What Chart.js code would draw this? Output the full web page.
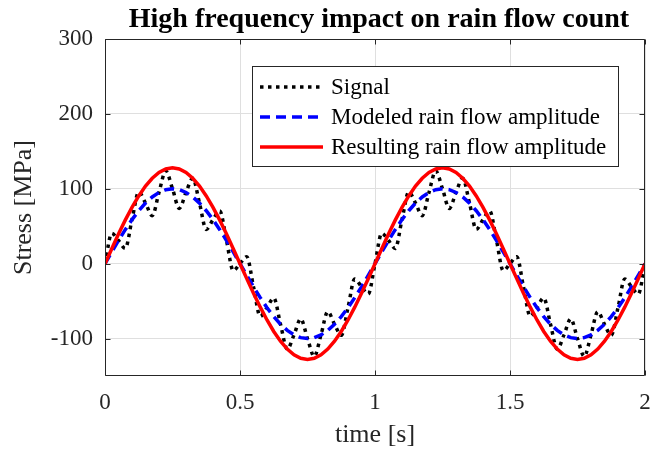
<!DOCTYPE html>
<html><head><meta charset="utf-8">
<script src="https://cdn.jsdelivr.net/npm/chart.js@4.4.1/dist/chart.umd.min.js"></script>
<style>html,body{margin:0;padding:0;background:#fff;}#wrap{width:665px;height:451px;position:relative;}</style>
</head><body><div id="wrap"><canvas id="c" width="665" height="451"></canvas></div>
<script>
const titleText = 'High frequency impact on rain flow count';
const xLabel = 'time [s]';
const yLabel = 'Stress [MPa]';
const seriesNames = ['Signal', 'Modeled rain flow amplitude', 'Resulting rain flow amplitude'];
const xTicks = [0, 0.5, 1, 1.5, 2];
const yTicks = [-100, 0, 100, 200, 300];

const timeS = [0,0.025,0.05,0.075,0.1,0.125,0.15,0.175,0.2,0.225,0.25,0.275,0.3,0.325,0.35,0.375,0.4,0.425,0.45,0.475,
0.5,0.525,0.55,0.575,0.6,0.625,0.65,0.675,0.7,0.725,0.75,0.775,0.8,0.825,0.85,0.875,0.9,0.925,0.95,0.975,
1,1.025,1.05,1.075,1.1,1.125,1.15,1.175,1.2,1.225,1.25,1.275,1.3,1.325,1.35,1.375,1.4,1.425,1.45,1.475,
1.5,1.525,1.55,1.575,1.6,1.625,1.65,1.675,1.7,1.725,1.75,1.775,1.8,1.825,1.85,1.875,1.9,1.925,1.95,1.975,2];

const signal = [0,40.6,30.9,20.4,58.8,95.7,80.9,64.1,95.1,123.8,100,73.8,95.1,114.1,80.9,45.7,58.8,70.4,30.9,-9.4,
0,9.4,-30.9,-70.4,-58.8,-45.7,-80.9,-114.1,-95.1,-73.8,-100,-123.8,-95.1,-64.1,-80.9,-95.7,-58.8,-20.4,-30.9,-40.6,
0,40.6,30.9,20.4,58.8,95.7,80.9,64.1,95.1,123.8,100,73.8,95.1,114.1,80.9,45.7,58.8,70.4,30.9,-9.4,
0,9.4,-30.9,-70.4,-58.8,-45.7,-80.9,-114.1,-95.1,-73.8,-100,-123.8,-95.1,-64.1,-80.9,-95.7,-58.8,-20.4,-30.9,-40.6,0];

const modeled = [0,15.6,30.9,45.4,58.8,70.7,80.9,89.1,95.1,98.8,100,98.8,95.1,89.1,80.9,70.7,58.8,45.4,30.9,15.6,
0,-15.6,-30.9,-45.4,-58.8,-70.7,-80.9,-89.1,-95.1,-98.8,-100,-98.8,-95.1,-89.1,-80.9,-70.7,-58.8,-45.4,-30.9,-15.6,
0,15.6,30.9,45.4,58.8,70.7,80.9,89.1,95.1,98.8,100,98.8,95.1,89.1,80.9,70.7,58.8,45.4,30.9,15.6,
0,-15.6,-30.9,-45.4,-58.8,-70.7,-80.9,-89.1,-95.1,-98.8,-100,-98.8,-95.1,-89.1,-80.9,-70.7,-58.8,-45.4,-30.9,-15.6,0];

const resulting = [0,20,39.6,58.1,75.2,90.5,103.6,114,121.7,126.4,128,126.4,121.7,114,103.6,90.5,75.2,58.1,39.6,20,
0,-20,-39.6,-58.1,-75.2,-90.5,-103.6,-114,-121.7,-126.4,-128,-126.4,-121.7,-114,-103.6,-90.5,-75.2,-58.1,-39.6,-20,
0,20,39.6,58.1,75.2,90.5,103.6,114,121.7,126.4,128,126.4,121.7,114,103.6,90.5,75.2,58.1,39.6,20,
0,-20,-39.6,-58.1,-75.2,-90.5,-103.6,-114,-121.7,-126.4,-128,-126.4,-121.7,-114,-103.6,-90.5,-75.2,-58.1,-39.6,-20,0];

const AX = '#262626';
const SERIF = '"Liberation Serif", "Times New Roman", serif';
const styles = [
  {color:'#000000', width:3.5, dash:[3.5,4.5], order:3, cubic:'monotone'},
  {color:'#0000ff', width:3.5, dash:[10,6], order:2, cubic:'default'},
  {color:'#ff0000', width:3.5, dash:[], order:1, cubic:'default'}
];
const seriesData = [signal, modeled, resulting];

const framePlugin = {
  id: 'frame',
  afterDatasetsDraw(chart) {
    const {ctx, chartArea: a, scales: {x, y}} = chart;
    ctx.save();
    ctx.strokeStyle = AX; ctx.lineWidth = 1;
    const L = Math.round(a.left) + 0.5, R = Math.round(a.right) - 0.5;
    const T = Math.round(a.top) + 0.5, B = Math.round(a.bottom) - 0.5;
    ctx.beginPath();
    ctx.rect(L, T, R - L, B - T);
    xTicks.forEach(v => {
      const px = Math.round(x.getPixelForValue(v)) + 0.5;
      ctx.moveTo(px, B); ctx.lineTo(px, B - 5);
      ctx.moveTo(px, T); ctx.lineTo(px, T + 5);
    });
    yTicks.forEach(v => {
      const py = Math.round(y.getPixelForValue(v)) + 0.5;
      ctx.moveTo(L, py); ctx.lineTo(L + 5, py);
      ctx.moveTo(R, py); ctx.lineTo(R - 5, py);
    });
    ctx.stroke();
    ctx.restore();
  },
  afterDraw(chart) {
    const ctx = chart.ctx;
    ctx.save();
    // title
    ctx.fillStyle = '#000';
    ctx.font = 'bold 28px ' + SERIF;
    ctx.textAlign = 'center';
    ctx.textBaseline = 'alphabetic';
    ctx.fillText(titleText, 379, 27);
    // legend
    const bx = 252.5, by = 66.5, bw = 366, bh = 100;
    ctx.fillStyle = '#fff';
    ctx.fillRect(bx, by, bw, bh);
    ctx.strokeStyle = AX; ctx.lineWidth = 1; ctx.setLineDash([]);
    ctx.strokeRect(bx, by, bw, bh);
    const rows = [87, 117, 147];
    ctx.font = '23px ' + SERIF;
    ctx.textAlign = 'left';
    ctx.textBaseline = 'middle';
    seriesNames.forEach((name, i) => {
      const s = styles[i];
      ctx.beginPath();
      ctx.strokeStyle = s.color; ctx.lineWidth = s.width; ctx.setLineDash(s.dash);
      ctx.lineCap = 'butt';
      ctx.moveTo(260, rows[i]); ctx.lineTo(323, rows[i]);
      ctx.stroke();
      ctx.setLineDash([]);
      ctx.fillStyle = '#000';
      ctx.fillText(name, 331, rows[i] + 1);
    });
    ctx.restore();
  }
};

const datasets = seriesNames.map((name, i) => ({
  label: name,
  data: timeS.map((t, j) => ({x: t, y: seriesData[i][j]})),
  borderColor: styles[i].color,
  borderWidth: styles[i].width,
  borderDash: styles[i].dash,
  borderCapStyle: 'butt',
  cubicInterpolationMode: styles[i].cubic,
  tension: 0,
  pointRadius: 0,
  fill: false,
  order: styles[i].order
}));

new Chart(document.getElementById('c'), {
  type: 'line',
  data: {datasets},
  plugins: [framePlugin],
  options: {
    responsive: false,
    animation: false,
    devicePixelRatio: 1,
    events: [],
    layout: {padding: {top: 39, right: 20, left: 0, bottom: 0}},
    plugins: {legend: {display: false}, tooltip: {enabled: false}, title: {display: false}},
    scales: {
      x: {
        type: 'linear', min: 0, max: 2,
        afterBuildTicks: s => { s.ticks = xTicks.map(v => ({value: v})); },
        afterFit: s => { s.height = 75; },
        grid: {color: '#dfdfdf', lineWidth: 1, drawTicks: false},
        border: {display: false},
        ticks: {padding: 13, color: AX, font: {family: SERIF, size: 23}, maxRotation: 0, callback: v => String(v)},
        title: {display: true, text: xLabel, color: AX, font: {family: SERIF, size: 26}, padding: {top: 0, bottom: 0}}
      },
      y: {
        type: 'linear', min: -150, max: 300,
        afterBuildTicks: s => { s.ticks = yTicks.map(v => ({value: v})); },
        afterFit: s => { s.width = 105; },
        grid: {color: '#dfdfdf', lineWidth: 1, drawTicks: false},
        border: {display: false},
        ticks: {padding: 12, color: AX, font: {family: SERIF, size: 23}, callback: v => String(v)},
        title: {display: true, text: yLabel, color: AX, font: {family: SERIF, size: 26}, padding: {top: 9, bottom: 0}}
      }
    }
  }
});
</script>
</body></html>
